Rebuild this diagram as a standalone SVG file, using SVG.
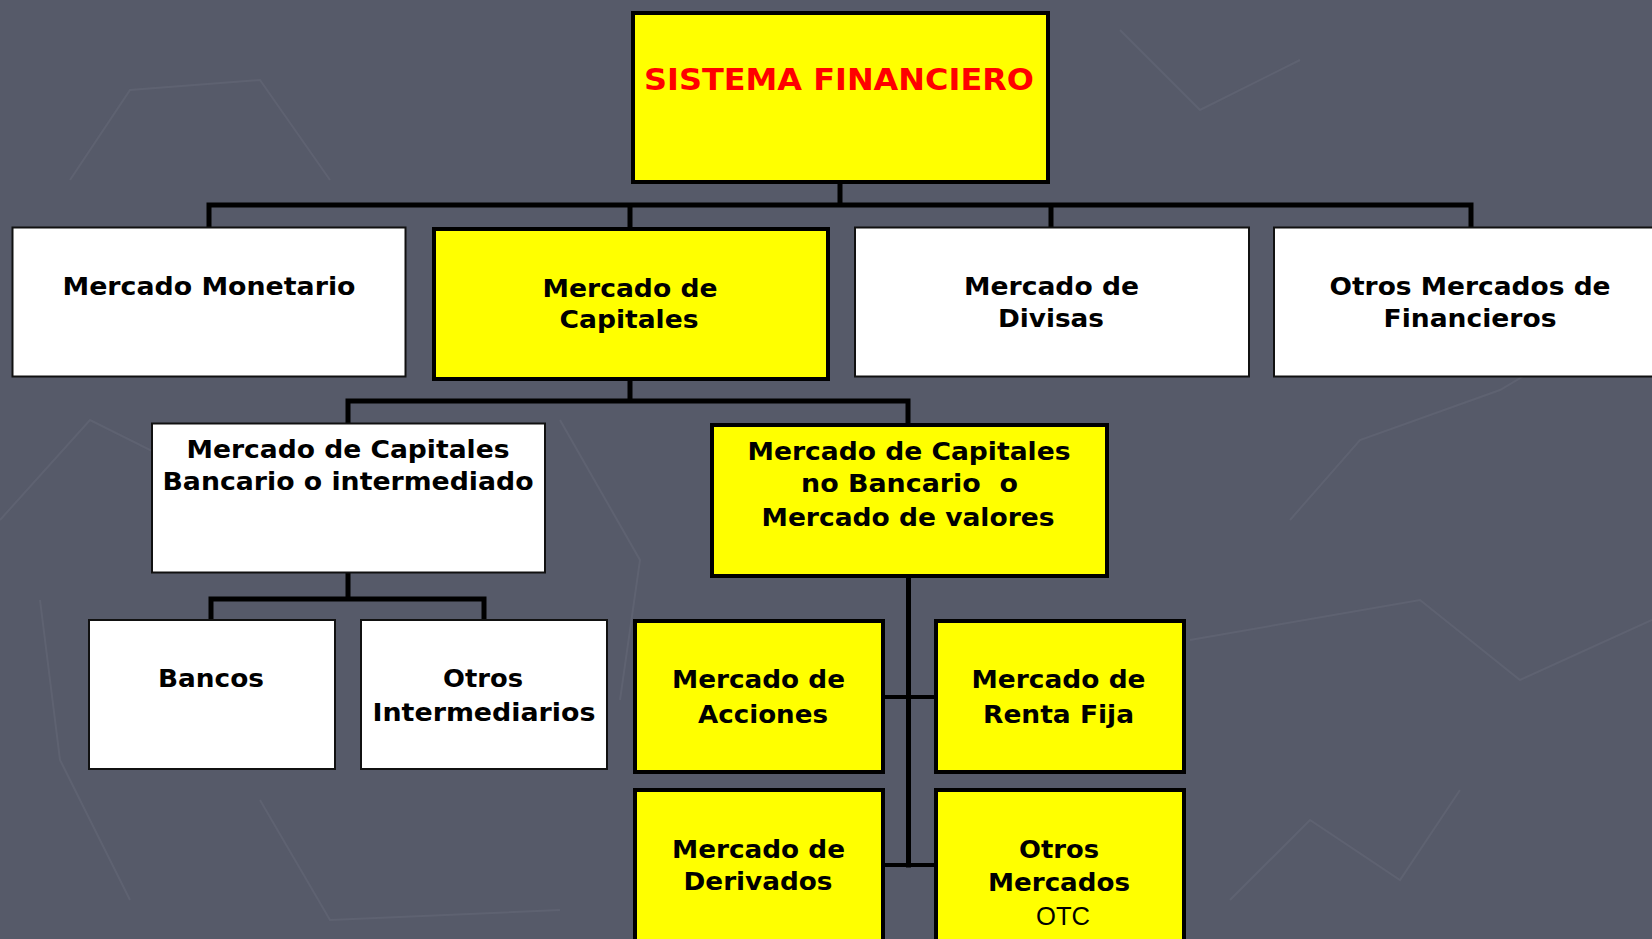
<svg xmlns="http://www.w3.org/2000/svg" width="1652" height="939" viewBox="0 0 1652 939">
<style>
.bg{fill:#565a69}
.tex{fill:none;stroke:#646876;stroke-width:2;opacity:0.6}
.w{fill:#ffffff;stroke:#111;stroke-width:2}
.y{fill:#ffff00;stroke:#000;stroke-width:4}
.c{fill:none;stroke:#000;stroke-width:5;stroke-linecap:square;stroke-linejoin:miter}
.c2{fill:none;stroke:#000;stroke-width:4}
text{font-family:"DejaVu Sans","Verdana","Liberation Sans",sans-serif;font-weight:bold;font-size:25px;fill:#000;text-anchor:middle}
.title{fill:#ff0000;font-size:31px}
.reg{font-weight:normal;font-family:"Liberation Sans",Arial,sans-serif;font-size:26px}
</style>
<rect class="bg" x="0" y="0" width="1652" height="939"/>
<g id="texture">
<path class="tex" d="M70 180 L130 90 L260 80 L330 180"/>
<path class="tex" d="M1120 30 L1200 110 L1300 60"/>
<path class="tex" d="M1290 520 L1360 440 L1500 390 L1652 300"/>
<path class="tex" d="M1190 640 L1420 600 L1520 680 L1652 620"/>
<path class="tex" d="M1230 900 L1310 820 L1400 880 L1460 790"/>
<path class="tex" d="M0 520 L90 420 L190 470 L280 430"/>
<path class="tex" d="M40 600 L60 760 L130 900"/>
<path class="tex" d="M560 420 L640 560 L620 700"/>
<path class="tex" d="M260 800 L330 920 L560 910"/>
</g>
<g id="connectors">
<path class="c" d="M840 182 V205 M209 205 H1471 M209 205 V227 M630 205 V228 M1051 205 V227 M1471 205 V227"/>
<path class="c" d="M630 380 V401 M348 401 H908 M348 401 V423 M908 401 V425"/>
<path class="c" d="M348 573 V599 M211 599 H484 M211 599 V620 M484 599 V620"/>
<path class="c" d="M908.5 577 V865"/>
<path class="c2" d="M883 697 H935 M883 865 H935"/>
</g>
<g id="sistema">
<rect class="y" x="633" y="13" width="415" height="169"/>
<text class="title" x="839" y="90" textLength="390" lengthAdjust="spacingAndGlyphs">SISTEMA FINANCIERO</text>
</g>
<g id="monetario">
<rect class="w" x="12.5" y="227.5" width="393" height="149"/>
<text x="209" y="295" textLength="293" lengthAdjust="spacingAndGlyphs">Mercado Monetario</text>
</g>
<g id="capitales">
<rect class="y" x="434" y="229" width="394" height="150"/>
<text x="630" y="297" textLength="175" lengthAdjust="spacingAndGlyphs">Mercado de</text>
<text x="629" y="328" textLength="139" lengthAdjust="spacingAndGlyphs">Capitales</text>
</g>
<g id="divisas">
<rect class="w" x="855" y="227.5" width="394" height="149"/>
<text x="1051.5" y="294.5" textLength="175" lengthAdjust="spacingAndGlyphs">Mercado de</text>
<text x="1051" y="326.5" textLength="106" lengthAdjust="spacingAndGlyphs">Divisas</text>
</g>
<g id="otros-mercados">
<rect class="w" x="1274" y="227.5" width="394" height="149"/>
<text x="1470" y="294.5" textLength="281" lengthAdjust="spacingAndGlyphs">Otros Mercados de</text>
<text x="1470" y="326.5" textLength="173" lengthAdjust="spacingAndGlyphs">Financieros</text>
</g>
<g id="bancario">
<rect class="w" x="152" y="423.5" width="393" height="149"/>
<text x="348" y="458" textLength="323" lengthAdjust="spacingAndGlyphs">Mercado de Capitales</text>
<text x="348" y="490" textLength="371" lengthAdjust="spacingAndGlyphs">Bancario o intermediado</text>
</g>
<g id="no-bancario">
<rect class="y" x="712" y="425" width="395" height="151"/>
<text x="909" y="460" textLength="323" lengthAdjust="spacingAndGlyphs">Mercado de Capitales</text>
<text x="909.5" y="492" textLength="217" lengthAdjust="spacingAndGlyphs" xml:space="preserve">no Bancario  o</text>
<text x="908" y="526" textLength="293" lengthAdjust="spacingAndGlyphs">Mercado de valores</text>
</g>
<g id="bancos">
<rect class="w" x="89" y="620" width="246" height="149"/>
<text x="211" y="687" textLength="106" lengthAdjust="spacingAndGlyphs">Bancos</text>
</g>
<g id="otros-intermediarios">
<rect class="w" x="361" y="620" width="246" height="149"/>
<text x="483" y="687" textLength="80" lengthAdjust="spacingAndGlyphs">Otros</text>
<text x="484" y="721" textLength="223" lengthAdjust="spacingAndGlyphs">Intermediarios</text>
</g>
<g id="acciones">
<rect class="y" x="635" y="621" width="248" height="151"/>
<text x="758.5" y="688" textLength="173" lengthAdjust="spacingAndGlyphs">Mercado de</text>
<text x="763" y="722.5" textLength="130" lengthAdjust="spacingAndGlyphs">Acciones</text>
</g>
<g id="renta-fija">
<rect class="y" x="936" y="621" width="248" height="151"/>
<text x="1058.5" y="688" textLength="174" lengthAdjust="spacingAndGlyphs">Mercado de</text>
<text x="1058.5" y="722.5" textLength="151" lengthAdjust="spacingAndGlyphs">Renta Fija</text>
</g>
<g id="derivados">
<rect class="y" x="635" y="790" width="248" height="160"/>
<text x="758.5" y="858" textLength="173" lengthAdjust="spacingAndGlyphs">Mercado de</text>
<text x="758" y="890" textLength="149" lengthAdjust="spacingAndGlyphs">Derivados</text>
</g>
<g id="otros-otc">
<rect class="y" x="936" y="790" width="248" height="160"/>
<text x="1059" y="858" textLength="80" lengthAdjust="spacingAndGlyphs">Otros</text>
<text x="1059" y="890.5" textLength="142" lengthAdjust="spacingAndGlyphs">Mercados</text>
<text class="reg" x="1063" y="925" textLength="54" lengthAdjust="spacingAndGlyphs">OTC</text>
</g>
</svg>
